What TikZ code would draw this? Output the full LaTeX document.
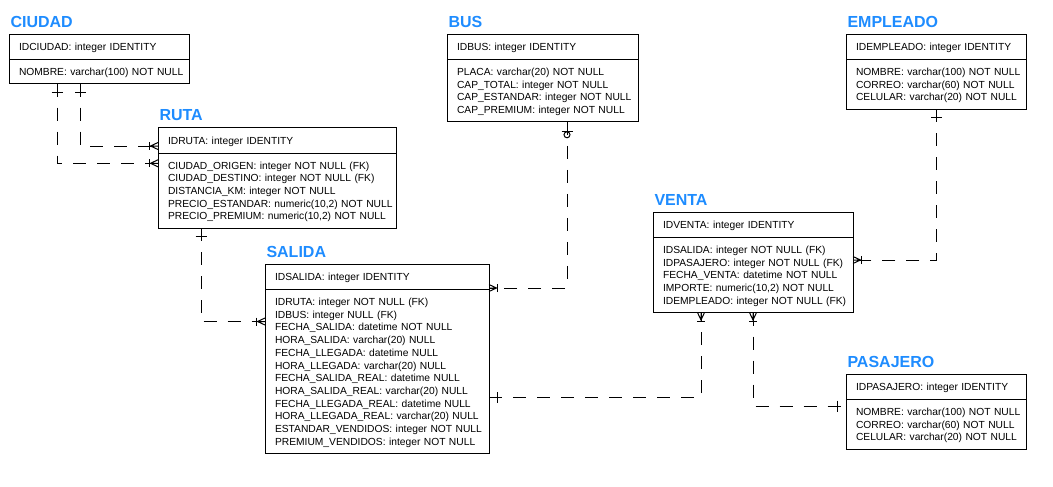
\documentclass[tikz,border=0pt]{standalone}
\usepackage{fontspec}
\setmainfont{Liberation Sans}
\usetikzlibrary{calc}

\definecolor{ttlblue}{RGB}{30,140,255}
\newcommand\tblfont{\fontsize{7.7}{9.525}\selectfont}
\newcommand\rows[1]{\raisebox{-1.05pt}[\height][\depth]{\begin{tabular}{@{}l@{}}#1\end{tabular}}}

\tikzset{every picture/.style={line width=0.75pt}}
\tikzset{
  tblhead/.style={draw, anchor=north west, outer sep=0pt, inner xsep=7.5pt, inner ysep=0pt,
    minimum height=19.125pt, text height=7.275pt, text depth=1.5pt, align=left, font=\tblfont},
  tblbody/.style={draw, anchor=north west, outer sep=0pt, inner xsep=7.5pt, inner ysep=0pt,
    minimum height=#1, align=left, font=\tblfont},
  ttl/.style={anchor=base west, inner sep=0pt, text=ttlblue, font=\fontsize{12}{14}\selectfont\bfseries},
  rel/.style={dash pattern=on 9.75pt off 8.25pt},
  pics/onebar/.style={code={\draw (8.5,-5.5) -- (8.5,5.5);}},
  pics/zerobar/.style={code={\draw (9.5,-5.5) -- (9.5,5.5); \draw (13,0) circle (3);}},
  pics/crowfoot/.style={code={\draw (0,-3.5) -- (7.5,0) -- (0,3.5) (0,0) -- (7.5,0); \draw (8.5,-4) -- (8.5,4);}},
}

\begin{document}
\begin{tikzpicture}[x=0.75pt,y=0.75pt,yscale=-1,xscale=1]
\useasboundingbox (0,0) rectangle (1053,486);

%Table CIUDAD
\node[tblhead, text width=120pt] (ciudad) at (9,34) {IDCIUDAD: integer IDENTITY};
\node[tblbody=18.15pt, text width=120pt] (ciudad-b) at (ciudad.south west) {\rows{NOMBRE: varchar(100) NOT NULL}};
\node[ttl] (ciudad-t) at ($(ciudad.north west)+(1,-7)$) {CIUDAD};

%Table RUTA
\node[tblhead, text width=163.5pt] (ruta) at (158,127.5) {IDRUTA: integer IDENTITY};
\node[tblbody=56.25pt, text width=163.5pt] (ruta-b) at (ruta.south west) {\rows{CIUDAD\_ORIGEN: integer NOT NULL (FK)\\
  CIUDAD\_DESTINO: integer NOT NULL (FK)\\ DISTANCIA\_KM: integer NOT NULL\\
  PRECIO\_ESTANDAR: numeric(10,2) NOT NULL\\ PRECIO\_PREMIUM: numeric(10,2) NOT NULL}};
\node[ttl] (ruta-t) at ($(ruta.north west)+(1,-7)$) {RUTA};

%Table BUS
\node[tblhead, text width=128.25pt] (bus) at (447,34) {IDBUS: integer IDENTITY};
\node[tblbody=46.7pt, text width=128.25pt] (bus-b) at (bus.south west) {\rows{PLACA: varchar(20) NOT NULL\\
  CAP\_TOTAL: integer NOT NULL\\ CAP\_ESTANDAR: integer NOT NULL\\ CAP\_PREMIUM: integer NOT NULL}};
\node[ttl] (bus-t) at ($(bus.north west)+(1,-7)$) {BUS};

%Table EMPLEADO
\node[tblhead, text width=120pt] (empleado) at (846,34) {IDEMPLEADO: integer IDENTITY};
\node[tblbody=37.2pt, text width=120pt] (empleado-b) at (empleado.south west) {\rows{NOMBRE: varchar(100) NOT NULL\\
  CORREO: varchar(60) NOT NULL\\ CELULAR: varchar(20) NOT NULL}};
\node[ttl] (empleado-t) at ($(empleado.north west)+(1,-7)$) {EMPLEADO};

%Table SALIDA
\node[tblhead, text width=153pt] (salida) at (265,264) {IDSALIDA: integer IDENTITY};
\node[tblbody=122.9pt, text width=153pt] (salida-b) at (salida.south west) {\rows{IDRUTA: integer NOT NULL (FK)\\
  IDBUS: integer NULL (FK)\\ FECHA\_SALIDA: datetime NOT NULL\\ HORA\_SALIDA: varchar(20) NULL\\
  FECHA\_LLEGADA: datetime NULL\\ HORA\_LLEGADA: varchar(20) NULL\\ FECHA\_SALIDA\_REAL: datetime NULL\\
  HORA\_SALIDA\_REAL: varchar(20) NULL\\ FECHA\_LLEGADA\_REAL: datetime NULL\\
  HORA\_LLEGADA\_REAL: varchar(20) NULL\\ ESTANDAR\_VENDIDOS: integer NOT NULL\\
  PREMIUM\_VENDIDOS: integer NOT NULL}};
\node[ttl] (salida-t) at ($(salida.north west)+(1,-7)$) {SALIDA};

%Table VENTA
\node[tblhead, text width=135pt] (venta) at (653,212) {IDVENTA: integer IDENTITY};
\node[tblbody=56.25pt, text width=135pt] (venta-b) at (venta.south west) {\rows{IDSALIDA: integer NOT NULL (FK)\\
  IDPASAJERO: integer NOT NULL (FK)\\ FECHA\_VENTA: datetime NOT NULL\\
  IMPORTE: numeric(10,2) NOT NULL\\ IDEMPLEADO: integer NOT NULL (FK)}};
\node[ttl] (venta-t) at ($(venta.north west)+(1,-7)$) {VENTA};

%Table PASAJERO
\node[tblhead, text width=120pt] (pasajero) at (846,374) {IDPASAJERO: integer IDENTITY};
\node[tblbody=37.2pt, text width=120pt] (pasajero-b) at (pasajero.south west) {\rows{NOMBRE: varchar(100) NOT NULL\\
  CORREO: varchar(60) NOT NULL\\ CELULAR: varchar(20) NOT NULL}};
\node[ttl] (pasajero-t) at ($(pasajero.north west)+(1,-7)$) {PASAJERO};

%Relations
\draw[rel] ($(ciudad-b.south west)+(48,0)$) |- ($(ruta-b.north west)+(0,10.3)$);
\draw[rel] ($(ciudad-b.south west)+(71.5,0)$) |- ($(ruta-b.north west)+(0,-7)$);
\draw[rel] ($(ruta-b.south west)+(43,0)$) |- ($(salida-b.north west)+(0,32)$);
\draw[rel] ($(bus-b.south west)+(120,0)$) |- ($(salida-b.north east)+(0,-1.5)$);
\draw[rel] ($(salida-b.north east)+(0,107.5)$) -| ($(venta-b.south west)+(48,0)$);
\draw[rel] ($(venta-b.south west)+(100,0)$) |- ($(pasajero-b.north west)+(0,6.5)$);
\draw[rel] ($(empleado-b.south west)+(90.5,0)$) |- ($(venta-b.north east)+(0,22.5)$);

%Ends
\pic[rotate=-90] at ($(ciudad-b.south west)+(48,0)$) {onebar};
\pic[rotate=-90] at ($(ciudad-b.south west)+(71.5,0)$) {onebar};
\pic[rotate=180] at ($(ruta-b.north west)+(0,10.3)$) {crowfoot};
\pic[rotate=180] at ($(ruta-b.north west)+(0,-7)$) {crowfoot};
\pic[rotate=-90] at ($(ruta-b.south west)+(43,0)$) {onebar};
\pic[rotate=180] at ($(salida-b.north west)+(0,32)$) {crowfoot};
\pic[rotate=-90] at ($(bus-b.south west)+(120,0)$) {zerobar};
\pic at ($(salida-b.north east)+(0,-1.5)$) {crowfoot};
\pic at ($(salida-b.north east)+(0,107.5)$) {onebar};
\pic[rotate=-90] at ($(venta-b.south west)+(48,0)$) {crowfoot};
\pic[rotate=-90] at ($(venta-b.south west)+(100,0)$) {crowfoot};
\pic[rotate=180] at ($(pasajero-b.north west)+(0,6.5)$) {onebar};
\pic[rotate=-90] at ($(empleado-b.south west)+(90.5,0)$) {onebar};
\pic at ($(venta-b.north east)+(0,22.5)$) {crowfoot};

\end{tikzpicture}
\end{document}
